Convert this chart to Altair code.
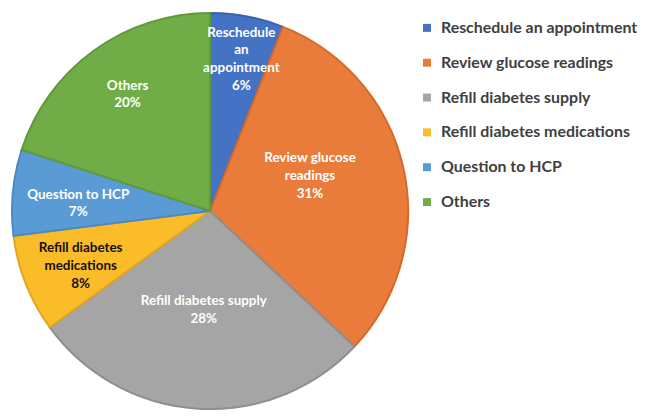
import altair as alt
import pandas as pd

categories = [
    "Reschedule an appointment",
    "Review glucose readings",
    "Refill diabetes supply",
    "Refill diabetes medications",
    "Question to HCP",
    "Others",
]
values = [6, 31, 28, 8, 7, 20]
label_texts = [
    "Reschedule\nan\nappointment\n6%",
    "Review glucose\nreadings\n31%",
    "Refill diabetes supply\n28%",
    "Refill diabetes\nmedications\n8%",
    "Question to HCP\n7%",
    "Others\n20%",
]
fill_colors = ["#4472C4", "#E97C3A", "#A5A5A5", "#FBBC2A", "#5B9BD5", "#70AD47"]
stroke_colors = ["#3A62AE", "#D36A2C", "#8F8F8F", "#E0A61E", "#4C89C2", "#5E9A3A"]

df = pd.DataFrame({
    "category": categories,
    "value": values,
    "label": label_texts,
    "idx": list(range(len(categories))),
})

FONT = "Lato"
LINE_H = 18
theta_scale = alt.Scale(domain=[0, 100], range=[0, 6.283185307179586])

base = alt.Chart(df)

pie = base.mark_arc(radius=199, strokeWidth=2).encode(
    theta=alt.Theta("value:Q", stack=True, scale=theta_scale),
    order=alt.Order("idx:Q"),
    color=alt.Color(
        "category:N",
        sort=categories,
        scale=alt.Scale(domain=categories, range=fill_colors),
        legend=alt.Legend(
            title=None,
            orient="none",
            legendX=409,
            legendY=8,
            symbolType="square",
            symbolSize=64,
            symbolStrokeWidth=0,
            labelFont=FONT,
            labelFontSize=16,
            labelFontWeight="bold",
            labelColor="#404040",
            labelOffset=6,
            rowPadding=19,
            padding=0,
            labelLimit=300,
        ),
    ),
    stroke=alt.Stroke(
        "category:N",
        scale=alt.Scale(domain=categories, range=stroke_colors),
        legend=None,
    ),
)

labeled = base.transform_window(
    cum="sum(value)", sort=[alt.SortField("idx")]
).transform_calculate(
    mid="datum.cum - datum.value / 2"
)

# (category, label radius, extra dx, extra dy)
label_place = [
    ("Reschedule an appointment", 152, 3, -3),
    ("Review glucose readings", 106, -3, -12),
    ("Refill diabetes supply", 100, 0, 0),
    ("Refill diabetes medications", 142, 2, 3),
    ("Question to HCP", 133, 0, 5),
    ("Others", 141, 0, -3),
]

layers = [pie]
for (name, r, ddx, ddy), txt in zip(label_place, label_texts):
    n_lines = txt.count("\n") + 1
    layers.append(
        labeled.transform_filter(
            alt.FieldEqualPredicate(field="category", equal=name)
        ).mark_text(
            radius=r,
            dx=ddx,
            dy=ddy - (n_lines - 1) * LINE_H / 2,
            font=FONT,
            fontSize=13.5,
            fontWeight="bold",
            lineBreak="\n",
            lineHeight=LINE_H,
            align="center",
            baseline="middle",
            color="#111111" if name == "Refill diabetes medications" else "#FFFFFF",
        ).encode(
            theta=alt.Theta("mid:Q", scale=theta_scale),
            text="label:N",
        )
    )

chart = alt.layer(*layers).properties(
    width=398, height=400, padding=0
).configure_view(stroke=None)

chart.save("out.html", embed_options={"renderer": "svg", "actions": False})
